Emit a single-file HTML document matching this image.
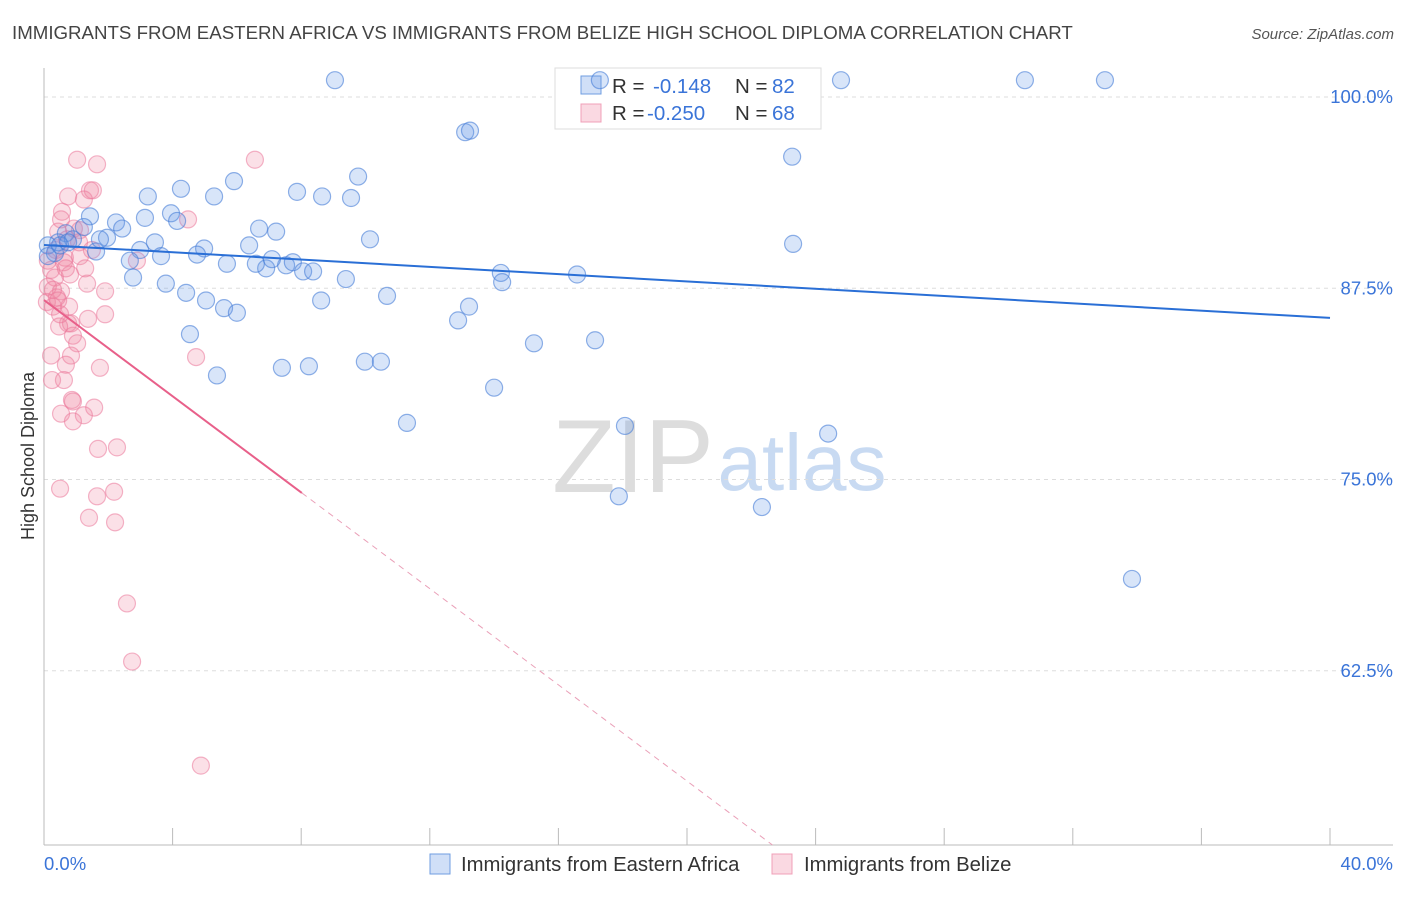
<!DOCTYPE html>
<html><head><meta charset="utf-8">
<style>
body{margin:0;background:#fff;font-family:"Liberation Sans",sans-serif;}
svg text{font-family:"Liberation Sans",sans-serif;}
</style></head>
<body>
<svg id="chart" width="1406" height="892" xmlns="http://www.w3.org/2000/svg">
<text x="12" y="39" font-size="18.7" fill="#444">IMMIGRANTS FROM EASTERN AFRICA VS IMMIGRANTS FROM BELIZE HIGH SCHOOL DIPLOMA CORRELATION CHART</text>
<text x="1394" y="39" font-size="15" fill="#555" text-anchor="end" font-style="italic">Source: ZipAtlas.com</text>
<text transform="translate(34,456) rotate(-90)" font-size="18" fill="#333" text-anchor="middle">High School Diploma</text>
<g>
<text x="633" y="492" font-size="104" fill="#ddd" text-anchor="middle" font-family="Liberation Serif">ZIP</text>
<text x="802" y="490" font-size="80" fill="#c8daf2" text-anchor="middle">atlas</text>
</g>
<g id="grid"></g>
<g id="axes"></g>
<g>
<rect x="555" y="68" width="266" height="61" fill="#fff" stroke="#ddd"/>
<rect x="581" y="76" width="20" height="18" fill="rgba(100,150,230,0.3)" stroke="#6f9ee0"/>
<text x="612" y="93" font-size="20.5" fill="#333">R = </text><text x="653" y="93" font-size="20.5" fill="#3a74d8">-0.148</text>
<text x="735" y="93" font-size="20.5" fill="#333">N = </text><text x="772" y="93" font-size="20.5" fill="#3a74d8">82</text>
<rect x="581" y="104" width="20" height="18" fill="rgba(240,130,160,0.3)" stroke="#f0a0b8"/>
<text x="612" y="120" font-size="20.5" fill="#333">R = </text><text x="647" y="120" font-size="20.5" fill="#3a74d8">-0.250</text>
<text x="735" y="120" font-size="20.5" fill="#333">N = </text><text x="772" y="120" font-size="20.5" fill="#3a74d8">68</text>
</g>
<g id="pts"></g>
<g id="trends"></g>
<g>
<rect x="430" y="854" width="20" height="20" fill="rgba(100,150,230,0.3)" stroke="#6f9ee0"/>
<text x="461" y="871" font-size="20.3" fill="#333">Immigrants from Eastern Africa</text>
<rect x="772" y="854" width="20" height="20" fill="rgba(240,130,160,0.3)" stroke="#f0a0b8"/>
<text x="804" y="871" font-size="20.3" fill="#333">Immigrants from Belize</text>
</g>
</svg>
<script>
const yTicks=[100,87.5,75,62.5];
const yTickLabels=["100.0%","87.5%","75.0%","62.5%"];
const xTickCount=10;
const blueX=[9.05,17.29,24.79,30.51,33.0,13.1,13.25,23.27,4.26,3.23,5.29,5.91,7.87,8.65,9.77,9.55,1.43,2.24,3.14,3.95,4.14,6.69,7.22,10.14,0.68,0.44,0.90,1.24,1.96,2.43,2.99,3.45,3.64,4.98,4.76,6.38,5.69,6.91,6.59,7.53,7.09,7.74,8.06,8.37,9.39,14.21,14.25,16.58,23.30,1.62,0.12,0.34,2.77,3.79,4.42,5.04,5.60,6.0,8.62,10.67,12.88,13.22,4.54,5.38,7.40,8.24,9.98,10.48,14.0,15.24,17.14,11.29,18.07,24.39,17.88,22.33,33.84,0.12,0.5,0.75,1.74,2.67];
const blueY=[101.1,101.1,101.1,101.1,101.1,97.7,97.8,96.1,94.0,93.5,93.5,94.5,93.8,93.5,94.8,93.4,92.2,91.8,92.1,92.4,91.9,91.4,91.2,90.7,91.1,90.5,90.7,91.5,90.8,91.4,90.0,90.5,89.6,90.1,89.7,90.3,89.1,88.8,89.1,89.0,89.4,89.2,88.6,88.6,88.1,88.5,87.9,88.4,90.4,89.9,90.3,89.8,88.2,87.8,87.2,86.7,86.2,85.9,86.7,87.0,85.4,86.3,84.5,81.8,82.3,82.4,82.7,82.7,81.0,83.9,84.1,78.7,78.5,78.0,73.9,73.2,68.5,89.6,90.3,90.5,90.7,89.3];
const pinkX=[1.03,1.65,6.56,0.75,1.43,1.52,1.24,0.56,0.53,4.48,0.44,0.93,0.72,1.09,0.65,1.12,2.89,0.22,0.34,0.12,0.53,1.34,1.90,0.09,0.40,0.28,0.78,0.75,1.37,1.90,0.84,0.47,0.90,1.03,0.22,0.84,4.73,0.68,1.74,0.25,0.62,0.87,0.90,1.56,0.53,1.24,0.90,1.68,2.27,0.5,1.65,2.18,1.40,2.21,2.58,2.74,4.88,0.12,0.37,0.62,0.81,1.49,1.28,0.28,0.5,1.12,0.68,0.44];
const pinkY=[95.9,95.6,95.9,93.5,93.9,93.9,93.3,92.5,92.0,92.0,91.2,91.4,90.7,90.5,89.5,89.6,89.3,88.7,88.2,87.6,87.3,87.8,87.3,86.6,86.9,86.3,86.3,85.2,85.5,85.8,85.2,85.0,84.4,83.9,83.1,83.1,83.0,82.5,82.3,81.5,81.5,80.2,80.1,79.7,79.3,79.2,78.8,77.0,77.1,74.4,73.9,74.2,72.5,72.2,66.9,63.1,56.3,89.3,90.0,89.2,88.4,90.0,88.8,87.4,85.8,91.3,88.8,86.7];
const blueTrend=[90.33,85.56];
const pinkTrend=[86.73,-1.572];
const pinkSolidEnd=8.02;

const NS="http://www.w3.org/2000/svg";
const X0=44,X1=1330,YT=97,YB=845;
function sx(v){return X0+v/40*(X1-X0);}
function sy(v){return YT+(100-v)*15.3;}
function mk(tag,attrs,parent){const e=document.createElementNS(NS,tag);for(const k in attrs)e.setAttribute(k,attrs[k]);document.getElementById(parent).appendChild(e);return e;}

yTicks.forEach((t,i)=>{
 const g=mk('line',{x1:X0,x2:1393,y1:sy(t),y2:sy(t),stroke:'#ddd','stroke-dasharray':'4,4'},'grid');
 
 
 const l=mk('text',{x:1393,y:sy(t)+6,'font-size':18.5,fill:'#3a74d8','text-anchor':'end'},'axes');
 l.textContent=yTickLabels[i];
 
 
});
let ax=mk('line',{x1:X0,x2:X0,y1:68,y2:YB,stroke:'#bbb'},'axes');


let bx=mk('line',{x1:X0,x2:1393,y1:YB,y2:YB,stroke:'#bbb'},'axes');


for(let i=0;i<=xTickCount;i++){
 const t=mk('line',{x1:sx(i*4),x2:sx(i*4),y1:828,y2:YB,stroke:'#bbb'},'axes');
 
 
}
let xl=mk('text',{x:44,y:870,'font-size':18.5,fill:'#3a74d8'},'axes');xl.textContent='0.0%';


let xr=mk('text',{x:1393,y:870,'font-size':18.5,fill:'#3a74d8','text-anchor':'end'},'axes');xr.textContent='40.0%';



pinkX.forEach((x,i)=>{
 const c=mk('circle',{cx:sx(x),cy:sy(pinkY[i]),r:8.5,fill:'rgba(240,130,160,0.25)',stroke:'rgba(235,120,155,0.55)','stroke-width':1.2},'pts');
 
 
});
blueX.forEach((x,i)=>{
 const c=mk('circle',{cx:sx(x),cy:sy(blueY[i]),r:8.5,fill:'rgba(100,150,230,0.25)',stroke:'rgba(70,125,215,0.6)','stroke-width':1.2},'pts');
 
 
});
let bl=mk('line',{x1:sx(0),y1:sy(blueTrend[0]),x2:sx(40),y2:sy(blueTrend[1]),stroke:'#2a6fd6','stroke-width':2},'trends');


const pAt=x=>pinkTrend[0]+pinkTrend[1]*x;
let ps=mk('line',{x1:sx(0),y1:sy(pAt(0)),x2:sx(pinkSolidEnd),y2:sy(pAt(pinkSolidEnd)),stroke:'#e8608a','stroke-width':2},'trends');


const yEnd=100-(YB-YT)/15.3;const xEnd=(yEnd-pinkTrend[0])/pinkTrend[1];
let pd=mk('line',{x1:sx(pinkSolidEnd),y1:sy(pAt(pinkSolidEnd)),x2:sx(xEnd),y2:sy(yEnd),stroke:'#eaa0b8','stroke-width':1,'stroke-dasharray':'6,5'},'trends');


</script>
</body></html>
